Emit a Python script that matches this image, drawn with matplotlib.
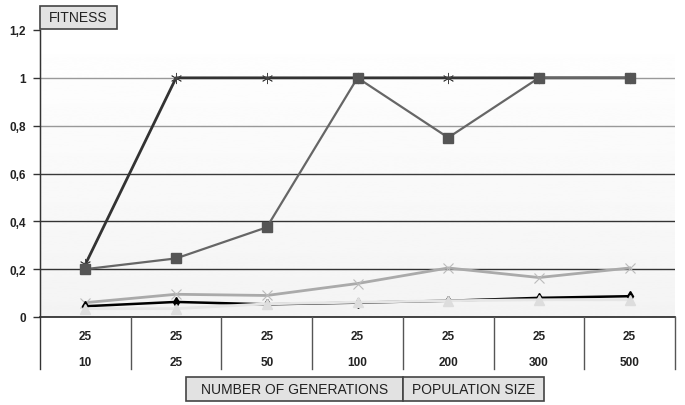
import numpy as np
import matplotlib
matplotlib.use("Agg")
import matplotlib.pyplot as plt
from matplotlib.patches import Rectangle
from matplotlib.lines import Line2D

plt.rcParams['font.family'] = ['Liberation Sans', 'DejaVu Sans']

generations = ['25', '25', '25', '25', '25', '25', '25']
population = ['10', '25', '50', '100', '200', '300', '500']

fit_star = [0.22, 1, 1, 1, 1, 1, 1]
fit_square = [0.2, 0.245, 0.375, 1, 0.75, 1, 1]
fit_cross = [0.06, 0.095, 0.09, 0.14, 0.205, 0.165, 0.205]
fit_diamond = [0.045, 0.063, 0.053, 0.06, 0.068, 0.08, 0.087]
fit_triangle = [0.035, 0.035, 0.055, 0.062, 0.068, 0.072, 0.072]

W, H = 685, 406
fig = plt.figure(figsize=(W / 100, H / 100), dpi=100)
fig.patch.set_facecolor('white')

x0, x1, ytop, ybot = 40, 675, 31, 318
ax = fig.add_axes([x0 / W, 1 - ybot / H, (x1 - x0) / W, (ybot - ytop) / H])
n = len(population)
xs = np.arange(n)
ax.set_xlim(-0.5, n - 0.5)

# soft vertical gradient behind the plot area
grad = np.linspace(0.955, 1.0, 256).reshape(-1, 1)
ax.imshow(grad, cmap='gray', vmin=0, vmax=1, aspect='auto',
          extent=[-0.5, n - 0.5, 1.2, 0], zorder=0, interpolation='bicubic')
ax.set_ylim(0, 1.2)

grid_colors = {0.2: '#333333', 0.4: '#333333', 0.6: '#3a3a3a', 0.8: '#999999', 1.0: '#999999'}
for yv, c in grid_colors.items():
    ax.axhline(yv, color=c, lw=1.0, zorder=1)

ax.plot(xs, fit_star, color='#333333', lw=2.0, marker=(6, 2, 0), ms=8,
        mec='#444444', mew=0.6, zorder=3)
ax.plot(xs, fit_square, color='#666666', lw=1.6, marker='s', ms=7,
        mfc='#555555', mec='#555555', zorder=4)
ax.plot(xs, fit_cross, color='#aaaaaa', lw=2.0, marker='x', ms=7,
        mec='#bbbbbb', mew=0.8, zorder=3)
ax.plot(xs, fit_diamond, color='#000000', lw=1.8, marker='d', ms=5, zorder=3)
ax.plot(xs, fit_triangle, color='#e6e6e6', lw=2.0, marker='^', ms=7,
        mfc='#dddddd', mec='#dddddd', zorder=3)

ax.set_yticks([0, 0.2, 0.4, 0.6, 0.8, 1.0, 1.2])
ax.set_yticklabels(['0', '0,2', '0,4', '0,6', '0,8', '1', '1,2'],
                   fontsize=8.5, fontweight='bold', color='#222222')
ax.tick_params(axis='y', length=5, width=1, color='#333333', pad=5)
ax.set_xticks([])
for side in ['top', 'right', 'bottom']:
    ax.spines[side].set_visible(False)
ax.spines['left'].set_color('#333333')

# category table under the axis
tb = 370
fig.add_artist(Line2D([x0 / W, x1 / W], [1 - ybot / H] * 2, color='#222222', lw=1.2))
fig.add_artist(Line2D([x0 / W] * 2, [1 - tb / H, 1 - ytop / H], color='#333333', lw=1))
step = (x1 - x0) / n
for i in range(1, n + 1):
    xp = (x0 + i * step) / W
    fig.add_artist(Line2D([xp, xp], [1 - tb / H, 1 - ybot / H], color='#555555', lw=1))
for i in range(n):
    xc = (x0 + (i + 0.5) * step) / W
    fig.text(xc, 1 - 337 / H, generations[i], ha='center', va='center',
             fontsize=8.5, fontweight='bold', color='#222222')
    fig.text(xc, 1 - 363 / H, population[i], ha='center', va='center',
             fontsize=8.5, fontweight='bold', color='#222222')


def button(xl, yt, w, h, label):
    fig.add_artist(Rectangle((xl / W, 1 - (yt + h) / H), w / W, h / H,
                             facecolor='#e2e2e2', edgecolor='#444444', lw=1.2))
    fig.text((xl + w / 2) / W, 1 - (yt + h / 2) / H, label, ha='center',
             va='center', fontsize=10, color='#222222')


button(40, 7, 77, 23, 'FITNESS')
button(186, 378, 217, 24, 'NUMBER OF GENERATIONS')
button(403, 378, 141, 24, 'POPULATION SIZE')

fig.savefig('out.png', dpi=100)
